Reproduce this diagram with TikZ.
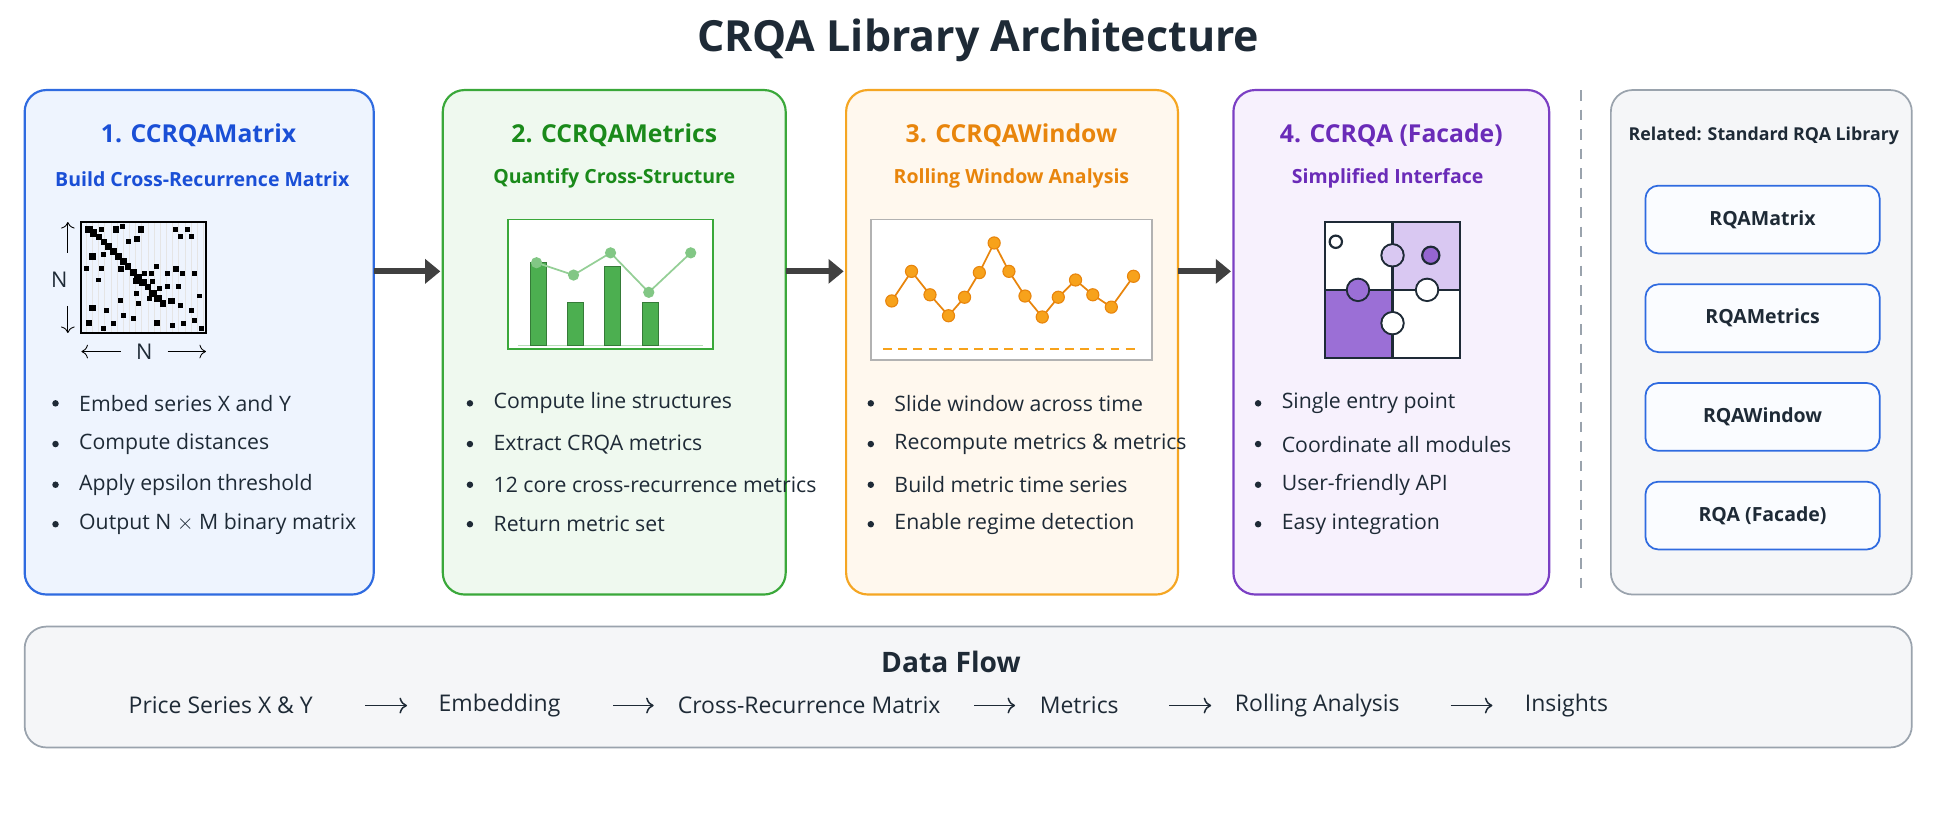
\documentclass[tikz,border=0pt]{standalone}
\usepackage{fontspec}
\setmainfont{Open Sans}
\usetikzlibrary{arrows.meta}
\definecolor{bB}{HTML}{2F6BE0}\definecolor{bF}{HTML}{EEF4FE}\definecolor{bT}{HTML}{1A4FD6}
\definecolor{gB}{HTML}{3AA83A}\definecolor{gF}{HTML}{EFF9EF}\definecolor{gT}{HTML}{1A8A1A}
\definecolor{oB}{HTML}{F5A623}\definecolor{oF}{HTML}{FFF8EE}\definecolor{oT}{HTML}{E8850C}
\definecolor{pB}{HTML}{7B3FC4}\definecolor{pF}{HTML}{F7F1FD}\definecolor{pT}{HTML}{6A2BB8}
\definecolor{txt}{HTML}{1E2A36}\definecolor{gr}{HTML}{9AA3AD}\definecolor{lf}{HTML}{F5F6F8}
\definecolor{dot}{HTML}{F7A21B}\definecolor{bar}{HTML}{4CAF50}\definecolor{lp}{HTML}{D9C8F2}\definecolor{dp}{HTML}{9B6FD6}
\begin{document}
\begin{tikzpicture}[x=0.02cm,y=-0.02cm,
 card/.style={rounded corners=10pt,line width=1pt},
 ttl/.style={font=\fontsize{11.4}{14}\selectfont\bfseries},
 sub/.style={font=\fontsize{9}{11}\selectfont\bfseries},
 bl/.style={font=\fontsize{9.8}{12}\selectfont,text=txt,anchor=west},
 flow/.style={-{Triangle[length=7pt,width=11pt]},line width=2.8pt,color=black!75},
 rel/.style={draw=bB,fill=white!70!bF,rounded corners=6pt,line width=0.8pt,minimum width=3.8cm,minimum height=1.1cm,font=\fontsize{9}{11}\selectfont\bfseries,text=txt},
 df/.style={font=\fontsize{10.6}{13}\selectfont,text=txt},
 dfa/.style={-{To[length=3.5pt]},line width=0.7pt,color=txt}]
\useasboundingbox[fill=white] (0,0) rectangle (1568,659);
\node[font=\fontsize{19.8}{24}\selectfont\bfseries,text=txt] (title) at (793,33) {CRQA Library Architecture};
% cards
\draw[card,draw=bB,fill=bF] (20,73) rectangle (303,482);
\draw[card,draw=gB,fill=gF] (359,73) rectangle (637,482);
\draw[card,draw=oB,fill=oF] (686,73) rectangle (955,482);
\draw[card,draw=pB,fill=pF] (1000,73) rectangle (1256,482);
\coordinate (c1r) at (303,220);\coordinate (c2l) at (357,220);
\coordinate (c2r) at (637,220);\coordinate (c3l) at (684,220);
\coordinate (c3r) at (955,220);\coordinate (c4l) at (998,220);
\draw[flow] (c1r)--(c2l);\draw[flow] (c2r)--(c3l);\draw[flow] (c3r)--(c4l);
\node[ttl,text=bT] (t1) at (161,110) {1. CCRQAMatrix};
\node[sub,text=bT] (s1) at (164,145) {Build Cross-Recurrence Matrix};
\node[ttl,text=gT] (t2) at (498,110) {2. CCRQAMetrics};
\node[sub,text=gT] (s2) at (498,145) {Quantify Cross-Structure};
\node[ttl,text=oT] (t3) at (820,110) {3. CCRQAWindow};
\node[sub,text=oT] (s3) at (820,145) {Rolling Window Analysis};
\node[ttl,text=pT] (t4) at (1128,110) {4. CCRQA (Facade)};
\node[sub,text=pT] (s4) at (1125,145) {Simplified Interface};
% bullets
\foreach \x/\a/\b/\c/\d in {
 45/Embed series X and Y/Compute distances/Apply epsilon threshold/Output N $\times$ M binary matrix,
 381/Compute line structures/Extract CRQA metrics/12 core cross-recurrence metrics/Return metric set,
 706/Slide window across time/Recompute metrics \& metrics/Build metric time series/Enable regime detection,
 1020/Single entry point/Coordinate all modules/User-friendly API/Easy integration}{
 \foreach \y/\t in {327/\a,360/\b,393/\c,425/\d}{
  \fill[txt] (\x,\y) circle (1.5pt);
  \node[bl] at (\x+13,\y) {\t};}}
% matrix icon
\draw[black!10,step=5] (66,180) grid (167,270);
\draw[black,line width=1pt] (66,180) rectangle (167,270);
\foreach \px/\py/\s in {72/186/3,76/189/3,80/192/2.5,84/196/2.5,88/200/3,92/204/3,96/208/3,100/212/3,104/216/2.5,108/221/3,112/225/3,116/229/3,120/233/2.5,124/238/3,128/242/3,132/246/2.5,
 82/186/2,94/186/2.5,99/184/2,114/186/2.5,142/186/2,152/186/2,146/192/2,155/192/2,111/194/2.5,104/196/2,75/208/2.5,84/206/2,98/218/2.5,70/218/2,82/218/2,127/216/2,117/222/2,123/222/2,143/218/2.5,136/222/2,148/222/2,158/222/2,80/227/2,110/228/2.5,124/228/2,129/234/2,111/238/2,136/232/2,145/232/2,98/244/2,112/246/2,121/242/2,75/250/2.5,86/252/2,139/244/2.5,146/248/2,100/256/2,155/252/2,162/240/2,72/262/2.5,92/262/2,108/258/2,127/262/2.5,149/262/2,158/260/2,163/266/2,84/266/2,140/264/2}
 {\fill (\px-\s,\py-\s) rectangle (\px+\s,\py+\s);}
\node[font=\fontsize{10}{12}\selectfont,text=txt] (nv) at (48,227) {N};
\node[font=\fontsize{10}{12}\selectfont,text=txt] (nh) at (117,285) {N};
\coordinate (u1) at (55,205);\coordinate (u2) at (55,180);\coordinate (d1) at (55,248);\coordinate (d2) at (55,270);
\draw[-{To[length=3pt]},thin] (u1)--(u2);\draw[-{To[length=3pt]},thin] (d1)--(d2);
\coordinate (l1) at (98,285);\coordinate (l2) at (66,285);\coordinate (r1) at (136,285);\coordinate (r2) at (167,285);
\draw[-{To[length=3pt]},thin] (l1)--(l2);\draw[-{To[length=3pt]},thin] (r1)--(r2);
% bar chart
\draw[gB,fill=white,line width=0.7pt] (412,178) rectangle (578,283);
\draw[bar!40,line width=0.7pt] (420,280)--(570,280);
\foreach \bx/\by in {430/213,460/245,490/216,521/245}{\draw[fill=bar,draw=bar!70!black,line width=0.5pt] (\bx,\by) rectangle (\bx+13,280);}
\draw[bar!60,line width=0.8pt] (435,213)--(465,223)--(495,205)--(526,237)--(560,205);
\foreach \p in {(435,213),(465,223),(495,205),(526,237),(560,205)}{\fill[bar!70] \p circle (2.6pt);}
% line chart
\draw[black!30,fill=white,line width=0.7pt] (706,178) rectangle (934,292);
\draw[dot,line width=0.7pt,dash pattern=on 4pt off 3pt] (716,283)--(924,283);
\draw[oT,line width=0.8pt] (723,244)--(739,220)--(754,239)--(769,256)--(782,241)--(794,221)--(806,197)--(818,220)--(831,240)--(845,257)--(858,241)--(872,227)--(886,239)--(901,249)--(919,224);
\foreach \p in {(723,244),(739,220),(754,239),(769,256),(782,241),(794,221),(806,197),(818,220),(831,240),(845,257),(858,241),(872,227),(886,239),(901,249),(919,224)}{\draw[fill=dot,draw=oT,line width=0.5pt] \p circle (2.8pt);}
% puzzle
\begin{scope}[line width=1pt,draw=txt]
\fill[lp] (1129,180) rectangle (1184,235);
\fill[dp] (1074,235) rectangle (1129,290);
\fill[white] (1074,180) rectangle (1129,235);\fill[white] (1129,235) rectangle (1184,290);
\draw[fill=lp] (1129,207) circle (9);
\draw[fill=dp] (1101,235) circle (9);
\draw[fill=white] (1157,235) circle (9);
\draw[fill=white] (1129,262) circle (9);
\fill[lp] (1129,207) circle (8.2);\fill[dp] (1101,235) circle (8.2);\fill[white] (1157,235) circle (8.2);\fill[white] (1129,262) circle (8.2);
\draw[txt] (1074,180) rectangle (1184,290);
\draw[txt] (1129,180)--(1129,198) (1129,216)--(1129,253) (1129,271)--(1129,290) (1074,235)--(1092,235) (1110,235)--(1148,235) (1166,235)--(1184,235);
\draw[fill=pB!80] (1160,207) circle (7);
\draw[fill=white] (1083,196) circle (5);
\end{scope}
% related
\draw[gr,line width=0.8pt,dash pattern=on 5pt off 4pt] (1282,73)--(1282,482);
\draw[rounded corners=10pt,line width=0.8pt,draw=gr,fill=lf] (1306,73) rectangle (1550,482);
\node[font=\fontsize{8.2}{10}\selectfont\bfseries,text=txt] (rt) at (1430,110) {Related: Standard RQA Library};
\node[rel] (r1) at (1429,178) {RQAMatrix};
\node[rel] (r2) at (1429,258) {RQAMetrics};
\node[rel] (r3) at (1429,338) {RQAWindow};
\node[rel] (r4) at (1429,418) {RQA (Facade)};
% data flow
\draw[rounded corners=10pt,line width=0.8pt,draw=gr,fill=lf] (20,508) rectangle (1550,606);
\node[font=\fontsize{13}{16}\selectfont\bfseries,text=txt] (dft) at (771,537) {Data Flow};
\node[df] (f1) at (179,572) {Price Series X \& Y};
\node[df] (f2) at (405,572) {Embedding};
\node[df] (f3) at (656,572) {Cross-Recurrence Matrix};
\node[df] (f4) at (875,572) {Metrics};
\node[df] (f5) at (1068,572) {Rolling Analysis};
\node[df] (f6) at (1270,572) {Insights};
\draw[dfa] (296,572)--(330,572);\draw[dfa] (497,572)--(530,572);\draw[dfa] (790,572)--(823,572);
\draw[dfa] (948,572)--(982,572);\draw[dfa] (1176,572)--(1210,572);
\end{tikzpicture}
\end{document}
